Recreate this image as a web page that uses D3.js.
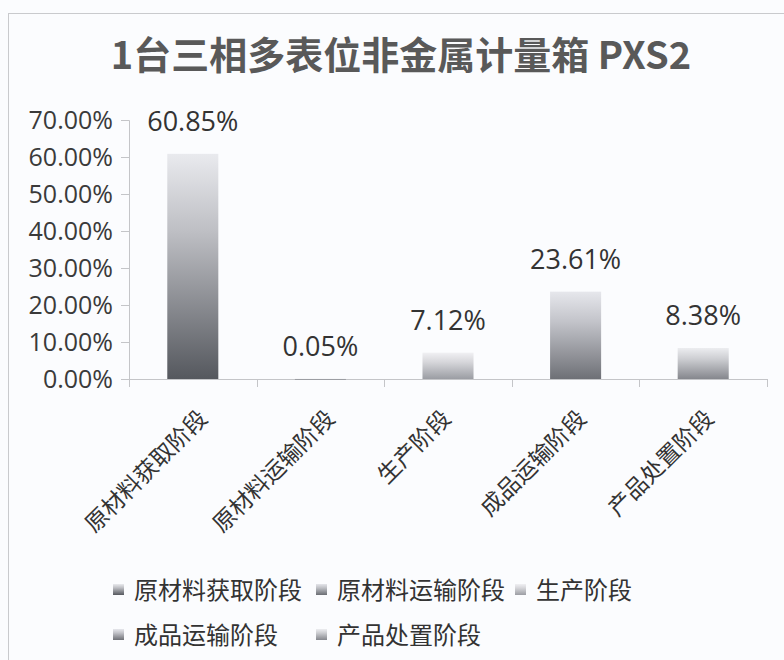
<!DOCTYPE html>
<html>
<head>
<meta charset="utf-8">
<script src="https://cdn.jsdelivr.net/npm/d3@7"></script>
<style>
  body { margin: 0; background: #fbfcfe; }
  svg { display: block; }
  .cjk { font-family: "Noto Sans CJK SC", sans-serif; }
  .num { font-family: "Open Sans", "Noto Sans", sans-serif; }
</style>
</head>
<body>
<div id="chart"></div>
<script>
// 数据
const title = '1台三相多表位非金属计量箱 PXS2';
const categories = ['原材料获取阶段', '原材料运输阶段', '生产阶段', '成品运输阶段', '产品处置阶段'];
const values = [60.85, 0.05, 7.12, 23.61, 8.38];
const yTicks = [0, 10, 20, 30, 40, 50, 60, 70];

// 每个柱子的渐变（顶部浅，底部深）
const gradTop = ['#e9eaee', '#e4e5ea', '#f0f0f3', '#e6e7ec', '#ecedf0'];
const gradBot = ['#55585e', '#6a6d73', '#9b9da3', '#6e7076', '#85878d'];

const W = 784, H = 660;
const margin = { top: 120, right: 17, bottom: 281, left: 129 };
const w = W - margin.left - margin.right;
const h = H - margin.top - margin.bottom;

const root = d3.select('#chart').append('svg')
  .attr('width', W).attr('height', H);

root.append('rect')
  .attr('x', 8.5).attr('y', 13.5)
  .attr('width', 800).attr('height', 700)
  .attr('fill', '#fbfcfe').attr('stroke', '#c9cacd');

const defs = root.append('defs');
categories.forEach((c, i) => {
  const g = defs.append('linearGradient')
    .attr('id', 'g' + i)
    .attr('x1', 0).attr('y1', 0).attr('x2', 0).attr('y2', 1);
  g.append('stop').attr('offset', '0%').attr('stop-color', gradTop[i]);
  g.append('stop').attr('offset', '35%').attr('stop-color', d3.interpolateRgb(gradTop[i], gradBot[i])(0.3));
  g.append('stop').attr('offset', '100%').attr('stop-color', gradBot[i]);
});

// 标题
root.append('text')
  .attr('class', 'cjk')
  .attr('x', 401).attr('y', 69)
  .attr('text-anchor', 'middle')
  .attr('font-size', 38).attr('font-weight', 'bold')
  .attr('fill', '#595959')
  .text(title);

const svg = root.append('g')
  .attr('transform', `translate(${margin.left},${margin.top})`);

const x = d3.scaleBand()
  .domain(categories)
  .range([0, w])
  .paddingInner(0.6).paddingOuter(0.3);

const y = d3.scaleLinear()
  .domain([0, 70]).range([h, 0]);

// Y 轴
const yAxis = svg.append('g')
  .call(d3.axisLeft(y).tickValues(yTicks).tickSize(8).tickPadding(8)
    .tickFormat(d => d.toFixed(2) + '%'));
yAxis.select('.domain').attr('stroke', '#c4c5c8');
yAxis.selectAll('.tick line').attr('stroke', '#c4c5c8');
yAxis.selectAll('text')
  .attr('class', 'num')
  .attr('font-size', 25).attr('fill', '#3a3a3a');

// X 轴线和分隔刻度
svg.append('line')
  .attr('x1', 0).attr('x2', w).attr('y1', h + 0.5).attr('y2', h + 0.5)
  .attr('stroke', '#c4c5c8');
d3.range(categories.length + 1).forEach(i => {
  const px = Math.round(i * x.step()) + 0.5;
  svg.append('line')
    .attr('x1', px).attr('x2', px).attr('y1', h).attr('y2', h + 8)
    .attr('stroke', '#c4c5c8');
});

// 柱子
svg.selectAll('.bar')
  .data(values)
  .join('rect')
  .attr('class', 'bar')
  .attr('x', (d, i) => x(categories[i]))
  .attr('y', d => y(d))
  .attr('width', x.bandwidth())
  .attr('height', d => Math.max(1, h - y(d)))
  .attr('fill', (d, i) => `url(#g${i})`);

// 数值标签
svg.selectAll('.val')
  .data(values)
  .join('text')
  .attr('class', 'num val')
  .attr('x', (d, i) => x(categories[i]) + x.bandwidth() / 2)
  .attr('y', d => y(d) - 23)
  .attr('text-anchor', 'middle')
  .attr('font-size', 27).attr('fill', '#333')
  .text(d => d.toFixed(2) + '%');

// 类别标签（旋转 -45°）
svg.selectAll('.cat')
  .data(categories)
  .join('text')
  .attr('class', 'cjk cat')
  .attr('text-anchor', 'end')
  .attr('font-size', 23).attr('fill', '#333')
  .text(d => d)
  .attr('transform', function(d) {
    const L = this.getComputedTextLength();
    const cx = x(d) + x.bandwidth() / 2 + 0.167 * L - 11;
    return `translate(${cx},${h + 41}) rotate(-45)`;
  });

// 图例
const legendRows = [[0, 1, 2], [3, 4]];
const colX = [113, 316, 515];
const rowY = [590, 635];
legendRows.forEach((row, r) => {
  row.forEach((idx, c) => {
    const g = root.append('g')
      .attr('transform', `translate(${colX[c]},${rowY[r]})`);
    g.append('rect')
      .attr('x', 0).attr('y', -6)
      .attr('width', 11).attr('height', 11)
      .attr('fill', `url(#g${idx})`);
    g.append('text')
      .attr('class', 'cjk')
      .attr('x', 21).attr('y', 9)
      .attr('font-size', 24).attr('fill', '#333')
      .text(categories[idx]);
  });
});
</script>
</body>
</html>
